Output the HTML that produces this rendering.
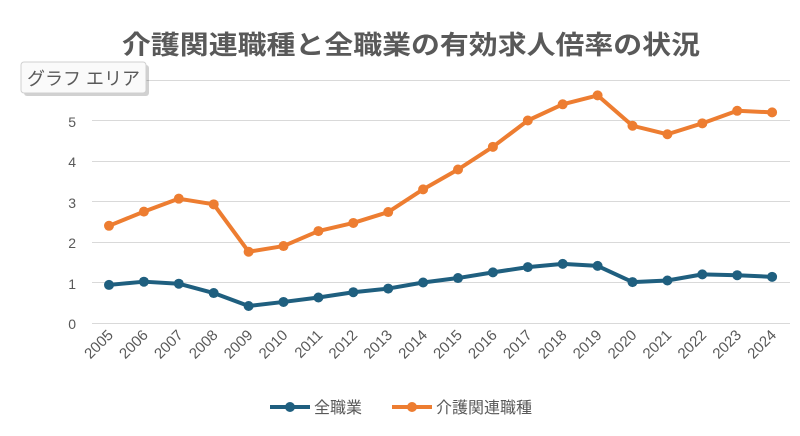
<!DOCTYPE html>
<html><head><meta charset="utf-8"><style>
body{margin:0;background:#fff;}
svg{display:block;font-family:"Liberation Sans","Noto Sans CJK JP",sans-serif;}
</style></head><body>
<svg width="800" height="436" viewBox="0 0 800 436" xmlns="http://www.w3.org/2000/svg">
<rect width="800" height="436" fill="#fff"/>
<text x="411" y="54" text-anchor="middle" font-size="26" font-weight="bold" fill="#595959" textLength="578" lengthAdjust="spacingAndGlyphs">介護関連職種と全職業の有効求人倍率の状況</text>
<g stroke="#d9d9d9" stroke-width="1">
<line x1="92" x2="790" y1="80.5" y2="80.5"/>
<line x1="92" x2="790" y1="120.5" y2="120.5"/>
<line x1="92" x2="790" y1="161.5" y2="161.5"/>
<line x1="92" x2="790" y1="201.5" y2="201.5"/>
<line x1="92" x2="790" y1="242.5" y2="242.5"/>
<line x1="92" x2="790" y1="282.5" y2="282.5"/>
<line x1="92" x2="790" y1="323.5" y2="323.5"/>
</g>
<g font-size="14" fill="#595959" text-anchor="end">
<text x="76" y="127">5</text><text x="76" y="167">4</text><text x="76" y="208">3</text>
<text x="76" y="248">2</text><text x="76" y="289">1</text><text x="76" y="329">0</text>
</g>
<g font-size="15" fill="#595959" text-anchor="end" id="xl"></g>
<polyline id="o" fill="none" stroke="#ed7d31" stroke-width="4" stroke-linejoin="round"/>
<polyline id="b" fill="none" stroke="#1f5f7f" stroke-width="4" stroke-linejoin="round"/>
<g id="dots"></g>
<rect x="21" y="62" width="125" height="31" rx="3" fill="#000" opacity="0.18" transform="translate(3,3)"/>
<rect x="21" y="62" width="125" height="31" rx="3" fill="#fafafa" stroke="#d0d0d0"/>
<text x="27" y="85" font-size="18" fill="#595959">グラフ エリア</text>
<line x1="270" x2="310" y1="407" y2="407" stroke="#1f5f7f" stroke-width="4"/>
<circle cx="290" cy="407" r="5" fill="#1f5f7f"/>
<text x="314" y="413" font-size="16" fill="#595959">全職業</text>
<line x1="392" x2="432" y1="407" y2="407" stroke="#ed7d31" stroke-width="4"/>
<circle cx="412" cy="407" r="5" fill="#ed7d31"/>
<text x="436" y="413" font-size="16" fill="#595959">介護関連職種</text>
<script>
var o=[2.4,2.75,3.07,2.93,1.76,1.9,2.27,2.47,2.74,3.3,3.79,4.35,5.0,5.4,5.62,4.87,4.66,4.93,5.24,5.2];
var b=[0.94,1.02,0.97,0.74,0.42,0.52,0.63,0.76,0.85,1.0,1.11,1.25,1.38,1.46,1.41,1.01,1.05,1.2,1.18,1.14];
function X(i){return 109+i*34.9;} function Y(v){return 323-v*40.5;}
var ns="http://www.w3.org/2000/svg";
document.getElementById('o').setAttribute('points',o.map((v,i)=>X(i)+','+Y(v)).join(' '));
document.getElementById('b').setAttribute('points',b.map((v,i)=>X(i)+','+Y(v)).join(' '));
var d=document.getElementById('dots'),xl=document.getElementById('xl');
[[o,'#ed7d31'],[b,'#1f5f7f']].forEach(function(s){s[0].forEach(function(v,i){var c=document.createElementNS(ns,'circle');c.setAttribute('cx',X(i));c.setAttribute('cy',Y(v));c.setAttribute('r',5);c.setAttribute('fill',s[1]);d.appendChild(c);});});
for(var i=0;i<20;i++){var t=document.createElementNS(ns,'text');var x=X(i)+5,y=336;t.setAttribute('x',x);t.setAttribute('y',y);t.setAttribute('transform','rotate(-45 '+x+' '+y+')');t.textContent=2005+i;xl.appendChild(t);}
</script>
</svg>
</body></html>
